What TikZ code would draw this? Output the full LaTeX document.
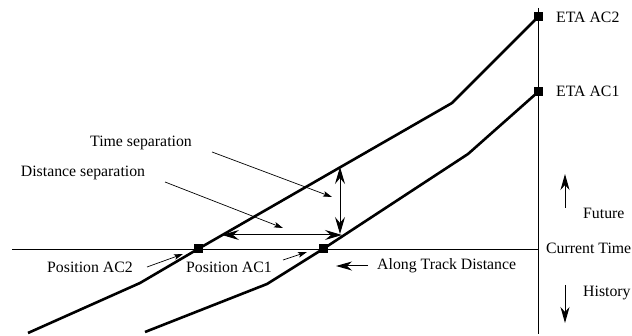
\documentclass[tikz,border=0pt]{standalone}
\usepackage{fontspec}
\setmainfont{Liberation Serif}
\usetikzlibrary{arrows.meta}

\begin{document}
\begin{tikzpicture}[x=1pt,y=-1pt,
  track/.style={black, line width=2.6pt, line join=round},
  axis/.style={black, line width=0.9pt},
  pointer/.style={black, line width=0.7pt, -{Stealth[length=9pt,width=5.5pt,inset=2pt]}},
  dimarrow/.style={black, line width=1pt, {Stealth[length=17pt,width=10pt,inset=6pt]}-{Stealth[length=17pt,width=10pt,inset=6pt]}},
  bigarrow/.style={black, line width=1pt, -{Stealth[length=16pt,width=9pt,inset=5pt]}},
  lbl/.style={font=\fontsize{15.8}{18}\selectfont, inner sep=0pt},
  posmark/.style={fill=black, minimum size=9pt, inner sep=0pt}]

\useasboundingbox (0,0) rectangle (632,336);

% Draw the time axis and the current time line
\coordinate (top) at (538,8);
\coordinate (bot) at (538,334);
\coordinate (now) at (538,249);
\coordinate (past) at (12,249);
\draw[axis] (top) -- (bot);
\draw[axis] (past) -- (now);

% Track of AC2
\coordinate (a2s) at (28,333);
\coordinate (a2k) at (140,283);
\node[posmark] (pos2) at (198,249) {};
\coordinate (a2m) at (452,103);
\node[posmark] (eta2) at (538,17) {};
\draw[track] (a2s) -- (a2k) -- (pos2.center) -- (a2m) -- (eta2.center);

% Track of AC1
\coordinate (a1s) at (145,332);
\coordinate (a1k) at (267,284);
\node[posmark] (pos1) at (323,249) {};
\coordinate (a1m) at (468,154);
\node[posmark] (eta1) at (538,92) {};
\draw[track] (a1s) -- (a1k) -- (pos1.center) -- (a1m) -- (eta1.center);

% Separations between the two tracks
\coordinate (ts1) at (340,167);
\coordinate (ts2) at (340,234);
\draw[dimarrow] (ts1) -- (ts2);
\coordinate (ds1) at (222,235);
\coordinate (ds2) at (342,235);
\draw[dimarrow] (ds1) -- (ds2);

% Labels on the left
\node[lbl] (tsep) at (141,143) {Time separation};
\node[lbl] (dsep) at (83,173) {Distance separation};
\coordinate (tsa) at (212,152);
\coordinate (tsb) at (332,197);
\draw[pointer] (tsa) -- (tsb);
\coordinate (dsa) at (165,182);
\coordinate (dsb) at (283,228);
\draw[pointer] (dsa) -- (dsb);

\node[lbl] (lpos2) at (90,267) {Position AC2};
\node[lbl] (lpos1) at (229,267) {Position AC1};
\coordinate (p2a) at (147,267);
\coordinate (p2b) at (183,254);
\draw[pointer] (p2a) -- (p2b);
\coordinate (p1a) at (283,260);
\coordinate (p1b) at (307,252);
\draw[pointer] (p1a) -- (p1b);

% Along track distance
\node[lbl, anchor=west] (along) at (377,266) {Along Track Distance};
\coordinate (ata) at (368,266);
\coordinate (atb) at (336,266);
\draw[bigarrow] (ata) -- (atb);

% Labels on the right
\node[lbl, anchor=west] (leta2) at (556,17) {ETA AC2};
\node[lbl, anchor=west] (leta1) at (556,91) {ETA AC1};
\node[lbl, anchor=west] (lnow) at (546,248) {Current Time};
\node[lbl, anchor=west] (lfut) at (583,213) {Future};
\node[lbl, anchor=west] (lhist) at (583,293) {History};
\coordinate (fa) at (565,208);
\coordinate (fb) at (565,174);
\draw[bigarrow] (fa) -- (fb);
\coordinate (ha) at (565,285);
\coordinate (hb) at (565,323);
\draw[bigarrow] (ha) -- (hb);

\end{tikzpicture}
\end{document}
